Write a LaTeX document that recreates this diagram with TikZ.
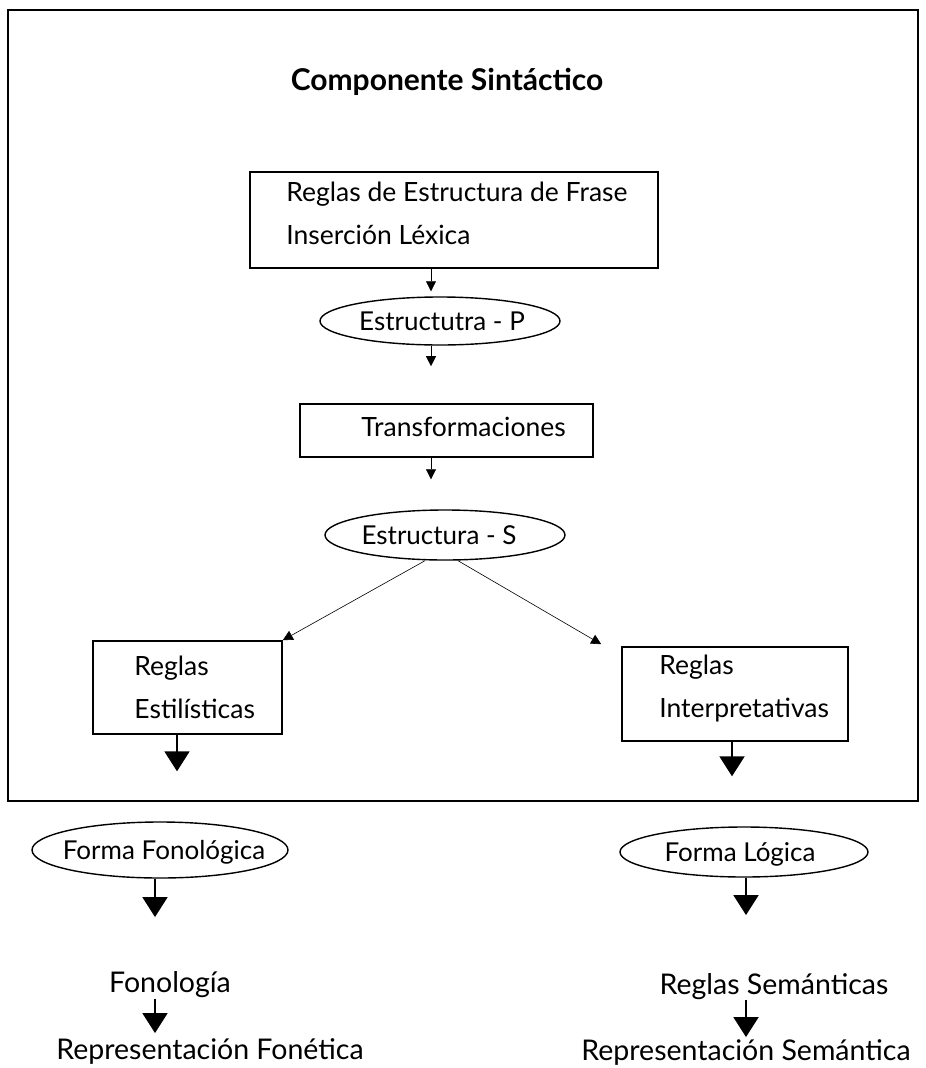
\documentclass[tikz,border=0pt]{standalone}
\usepackage{fontspec}
\setmainfont{Lato}
\usetikzlibrary{arrows.meta,shapes.geometric}

\begin{document}
\begin{tikzpicture}[x=1pt,y=-1pt,
  caja/.style={draw,line width=1.6pt,inner sep=0pt},
  elipse/.style={draw,ellipse,line width=1.4pt,inner sep=0pt},
  texto/.style={inner sep=0pt,anchor=west,align=left,font=\fontsize{26.5}{43}\selectfont},
  rotulo/.style={inner sep=0pt,text height=18.5pt,text depth=0pt,font=\fontsize{26}{30}\selectfont},
  abajo/.style={rotulo,font=\fontsize{28.5}{32}\selectfont},
  flechita/.style={line width=0.6pt,-{Triangle[length=10pt,width=10pt]}},
  flecha/.style={line width=2pt,-{Triangle[length=20pt,width=25pt]}}]
  \useasboundingbox (0,0) rectangle (926,1068);
  % marco del componente sintactico
  \draw[line width=1.8pt] (8,10) rectangle (918,801);
  \node[rotulo,font=\fontsize{30}{34}\selectfont\bfseries] (titulo) at (447,81) {Componente Sintáctico};
  % ejes de las flechas
  \coordinate (ejeA) at (431,0);
  \coordinate (ejeL) at (177,0);
  \coordinate (ejeFon) at (155,0);
  \coordinate (ejeR) at (732,0);
  \coordinate (ejeSem) at (746,0);
  % cajas y elipses
  \node[caja,minimum width=408pt,minimum height=96pt] (frase) at (454,220) {};
  \node[texto] (fraseT) at ([xshift=37pt,yshift=6.5pt]frase.west) {Reglas de Estructura de Frase\\Inserción Léxica};
  \node[elipse,minimum width=240pt,minimum height=48pt] (estP) at (440,321) {};
  \node[rotulo] (estPT) at ([xshift=2pt]estP) {Estructutra - P};
  \node[caja,minimum width=293pt,minimum height=53pt] (transf) at (446.5,430.5) {};
  \node[texto] (transfT) at ([xshift=62pt,yshift=3.5pt]transf.west) {Transformaciones};
  \node[elipse,minimum width=240pt,minimum height=50pt] (estS) at (445,535) {};
  \node[rotulo] (estST) at ([xshift=-6pt]estS) {Estructura - S};
  \node[caja,minimum width=189pt,minimum height=93pt] (estilo) at (187.5,687.5) {};
  \node[texto] (estiloT) at ([xshift=42pt]estilo.west) {Reglas\\Estilísticas};
  \node[caja,minimum width=226pt,minimum height=94pt] (interp) at (735,694) {};
  \node[texto] (interpT) at ([xshift=38pt,yshift=5.5pt]interp.west) {Reglas\\Interpretativas};
  % fuera del marco
  \node[elipse,minimum width=256pt,minimum height=56pt] (fonol) at (160,850) {};
  \node[rotulo] (fonolT) at ([xshift=4pt]fonol) {Forma Fonológica};
  \node[elipse,minimum width=248pt,minimum height=50pt] (logica) at (744,852) {};
  \node[rotulo] (logicaT) at ([xshift=-4pt]logica) {Forma Lógica};
  \node[abajo] (fonologia) at (170,983) {Fonología};
  \node[abajo] (repfon) at (210,1050) {Representación Fonética};
  \node[abajo] (regsem) at (774,985) {Reglas Semánticas};
  \node[abajo] (repsem) at (746,1051) {Representación Semántica};
  % flechas
  \draw[flechita,shorten >=5pt] (frase.south -| ejeA) -- (estP.north -| ejeA);
  \draw[flechita,shorten >=37pt] (estP.south -| ejeA) -- (transf.north -| ejeA);
  \draw[flechita,shorten >=30pt] (transf.south -| ejeA) -- (estS.north -| ejeA);
  \draw[flechita] ([xshift=-20pt]estS.south) -- (estilo.north east);
  \draw[flechita] ([xshift=13pt]estS.south) -- ([xshift=-20pt,yshift=2pt]interp.north west);
  \draw[flecha,shorten >=50pt] (estilo.south -| ejeL) -- (fonol.north -| ejeL);
  \draw[flecha,shorten >=50pt] (interp.south -| ejeR) -- (logica.north -| ejeR);
  \draw[flecha,shorten >=56.5pt] (fonol.south -| ejeFon) -- (fonologia.north -| ejeFon);
  \draw[flecha,shorten <=6.5pt,shorten >=7.5pt] (fonologia.south -| ejeFon) -- (repfon.north -| ejeFon);
  \draw[flecha,shorten >=60.5pt] (logica.south -| ejeSem) -- (regsem.north -| ejeSem);
  \draw[flecha,shorten <=5.5pt,shorten >=4.5pt] (regsem.south -| ejeSem) -- (repsem.north -| ejeSem);
\end{tikzpicture}
\end{document}
